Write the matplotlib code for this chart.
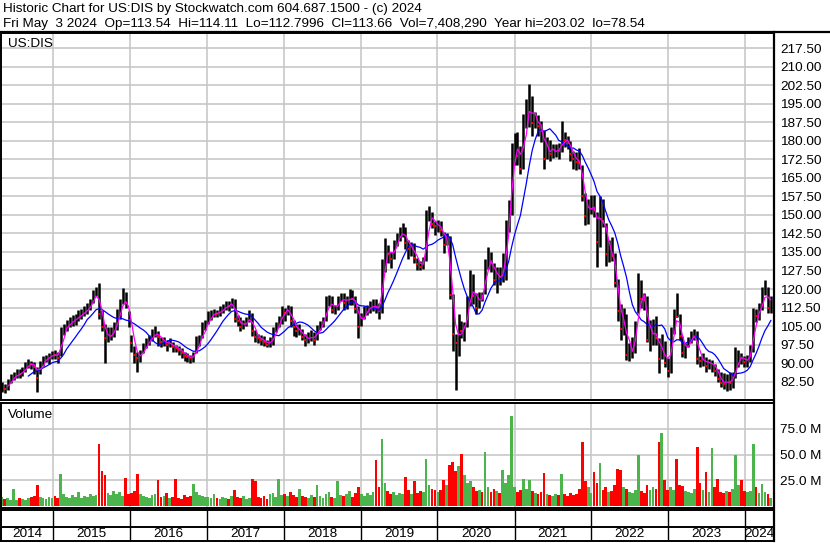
import matplotlib
matplotlib.use('Agg')
import matplotlib.pyplot as plt
import matplotlib.dates as mdates
from matplotlib.lines import Line2D
import numpy as np
import pandas as pd

plt.rcParams['font.family'] = ['Liberation Sans', 'DejaVu Sans']

header_1 = "Historic Chart for US:DIS by Stockwatch.com 604.687.1500 - (c) 2024"
header_2 = ("Fri May  3 2024  Op=113.54  Hi=114.11  Lo=112.7996  Cl=113.66  "
            "Vol=7,408,290  Year hi=203.02  lo=78.54")
symbol = "US:DIS"
first_bar = "2014-05-02"   # one bar every two weeks up to May 3 2024

closes = [
    80.5, 79.5, 82.0, 84.0, 84.5, 86.0, 85.5, 87.0, 89.0, 90.0, 89.5, 88.5, 84.0, 90.0, 91.5, 92.0, 92.5, 94.0,
    93.5, 92.0, 102.5, 104.0, 105.5, 106.5, 107.5, 108.0, 109.5, 110.0, 111.0, 112.5, 114.0, 117.5, 120.0, 110.0,
    104.5, 100.0, 100.5, 102.0, 104.0, 108.5, 113.5, 117.0, 114.5, 107.5,
    98.0, 93.5, 92.0, 93.5, 96.5, 98.5, 99.5, 101.5, 103.0, 100.5, 98.5, 99.0, 97.5, 98.0, 96.5, 96.0, 95.5, 94.0,
    93.0, 92.5, 92.0, 93.0, 98.5, 99.0, 104.0, 105.0,
    108.5, 110.0, 110.5, 110.0, 111.0, 112.5, 113.5, 113.0, 115.5, 108.0, 107.0, 104.5, 106.0, 107.0, 109.5, 103.0,
    100.5, 100.0, 99.5, 98.5, 97.5, 98.5, 102.0, 104.5, 107.0, 112.0,
    110.5, 112.5, 107.0, 104.5, 103.0, 103.5, 100.5, 99.5, 100.0, 101.5, 99.5, 104.0, 105.5, 107.5, 114.0, 116.0,
    111.5, 112.0, 115.5, 117.0, 114.5, 115.0, 117.5, 116.0, 112.0, 104.5,
    108.0, 111.5, 112.0, 113.0, 113.5, 112.5, 111.0, 130.5, 138.5, 134.0, 132.0, 138.0, 140.5, 143.0, 143.5, 138.5,
    136.0, 137.5, 132.5, 130.0, 129.0, 131.0, 149.0, 151.0, 146.5, 145.5,
    146.0, 144.0, 138.0, 140.5, 117.5, 102.0, 98.0, 104.5, 103.0, 105.5, 115.0, 124.5, 117.0, 112.5, 117.5, 117.0,
    131.0, 133.0, 130.5, 123.5, 126.0, 125.0, 125.5, 145.5, 154.0, 175.0,
    181.0, 174.0, 168.5, 189.0, 189.5, 197.0, 187.0, 189.5, 186.0, 184.0, 172.5, 179.5, 174.5, 176.0, 176.5, 176.0,
    181.5, 180.5, 179.0, 174.5, 172.5, 171.5, 171.0, 157.5, 149.5, 152.5, 155.0,
    152.0, 139.0, 155.0, 147.5, 134.0, 137.5, 133.5, 122.5, 111.0, 104.0, 109.5, 93.5, 95.0, 96.0, 106.0, 121.5,
    116.0, 115.5, 99.5, 101.0, 105.0, 100.0, 91.5, 98.5, 90.0, 87.0,
    103.0, 110.0, 108.5, 101.0, 94.0, 96.5, 99.0, 101.5, 102.5, 91.5, 91.0, 92.0, 89.0, 90.0, 90.5, 87.0,
    83.5, 82.0, 81.5, 83.5, 82.0, 84.0, 92.0, 93.0, 92.0, 90.5,
    91.0, 96.5, 109.5, 109.0, 112.0, 117.5, 120.5, 112.5, 113.66,
]

highs = [
    82.5, 81.5, 83.5, 85.5, 86.5, 87.5, 87.5, 88.5, 90.5, 91.5, 91.0, 90.5, 88.5, 91.0, 93.0, 93.5, 94.0, 95.0,
    95.5, 94.5, 104.5, 106.0, 107.5, 108.5, 109.5, 110.0, 111.5, 112.0, 113.0, 114.5, 116.0, 119.5, 121.0, 122.3,
    111.5, 106.0, 104.5, 104.5, 106.5, 112.0, 116.0, 120.5, 119.0, 111.0,
    101.5, 97.0, 94.5, 95.5, 98.0, 100.0, 101.5, 104.0, 105.0, 103.0, 100.5, 100.5, 99.5, 100.0, 98.5, 97.5, 97.0,
    96.0, 94.5, 94.0, 93.5, 94.5, 101.0, 101.5, 106.5, 107.5,
    111.0, 111.5, 112.0, 111.5, 113.0, 114.0, 115.0, 115.0, 116.2, 116.0, 109.5, 108.5, 107.5, 108.5, 111.5, 110.5,
    103.5, 102.0, 101.5, 101.0, 99.5, 100.5, 104.5, 106.5, 109.0, 113.0,
    112.5, 113.4, 113.0, 107.5, 106.0, 106.0, 104.0, 102.0, 102.5, 103.5, 102.5, 105.5, 107.0, 108.5, 117.0, 117.5,
    117.0, 113.5, 117.0, 118.5, 118.5, 117.0, 120.2, 119.5, 117.0, 113.0,
    110.5, 113.0, 113.5, 115.0, 116.0, 116.0, 114.5, 132.0, 140.5, 138.0, 135.0, 140.0, 142.5, 145.0, 146.7, 145.0,
    140.0, 139.0, 138.5, 132.5, 131.5, 133.0, 152.0, 153.4, 151.0, 147.5,
    148.0, 147.5, 143.0, 142.5, 141.5, 118.0, 102.0, 110.0, 107.0, 106.5, 117.0, 127.8, 126.0, 118.3, 119.0, 119.0,
    132.0, 137.0, 135.0, 130.5, 129.0, 129.0, 134.5, 148.0, 156.0, 179.0,
    183.0, 183.5, 178.0, 191.0, 197.0, 203.0, 198.0, 191.5, 190.5, 188.0, 184.5, 181.5, 180.5, 178.5, 178.5, 179.0,
    187.9, 183.5, 182.0, 180.0, 176.0, 175.5, 177.0, 170.0, 159.0, 156.5, 158.0,
    158.0, 151.0, 157.5, 156.5, 146.7, 140.0, 141.0, 134.5, 124.0, 114.0, 112.5, 110.0, 98.0, 100.7, 107.0, 126.4,
    123.5, 118.5, 117.0, 107.5, 108.0, 109.0, 100.0, 102.0, 99.0, 92.0,
    104.5, 112.0, 118.5, 110.0, 101.0, 98.0, 100.5, 103.0, 104.0, 103.0, 93.0, 94.0, 92.5, 91.5, 91.3, 89.5,
    87.5, 86.5, 86.0, 85.5, 86.5, 86.5, 96.7, 95.5, 94.0, 93.0,
    93.5, 97.5, 112.5, 112.0, 114.5, 121.0, 123.7, 121.0, 117.0,
]

lows = [
    78.5, 78.0, 79.0, 82.0, 83.0, 84.0, 84.0, 85.0, 86.5, 88.0, 87.5, 85.5, 78.5, 85.5, 89.0, 90.5, 89.5, 91.5,
    91.5, 90.0, 93.0, 101.5, 103.0, 104.5, 105.0, 105.5, 107.0, 108.0, 109.0, 110.0, 111.5, 114.5, 117.0, 108.0,
    103.0, 90.0, 98.5, 99.5, 100.5, 103.5, 108.0, 114.0, 112.5, 104.5,
    94.5, 90.0, 86.3, 90.5, 94.0, 96.0, 97.5, 99.0, 100.5, 97.0, 96.5, 97.0, 95.0, 96.5, 94.5, 94.5, 93.5, 92.0,
    91.0, 90.5, 90.0, 90.5, 94.0, 97.0, 100.0, 103.5,
    106.0, 107.5, 108.5, 108.5, 109.0, 110.5, 111.5, 111.0, 112.5, 106.5, 105.0, 103.0, 104.0, 105.0, 106.5, 101.0,
    98.5, 98.0, 97.5, 97.0, 96.5, 96.5, 97.5, 102.5, 104.5, 106.0,
    107.0, 109.5, 104.5, 101.0, 100.5, 101.5, 99.2, 97.1, 98.0, 99.0, 97.5, 99.5, 103.5, 104.5, 107.0, 113.0,
    110.5, 110.0, 111.5, 115.0, 111.5, 112.0, 113.5, 113.5, 110.5, 100.3,
    105.0, 108.0, 109.5, 110.5, 111.0, 110.5, 108.0, 110.5, 127.0, 130.5, 128.5, 132.0, 137.5, 139.5, 141.0, 136.0,
    132.0, 133.5, 130.5, 127.8, 127.5, 128.0, 131.5, 147.5, 144.5, 142.0,
    143.0, 141.3, 134.5, 138.0, 116.0, 95.0, 79.1, 93.0, 100.0, 99.0, 104.5, 113.0, 114.0, 110.0, 112.5, 115.0,
    118.0, 128.0, 127.0, 121.5, 118.3, 121.5, 123.0, 123.5, 143.0, 150.0,
    170.0, 170.0, 166.5, 168.5, 185.0, 185.5, 182.0, 185.0, 182.0, 179.5, 168.5, 172.5, 172.0, 173.0, 173.5, 172.5,
    175.5, 177.5, 176.5, 172.0, 168.5, 168.3, 168.5, 155.5, 146.0, 146.5, 150.5,
    149.0, 129.1, 137.0, 145.0, 129.5, 131.0, 131.5, 121.0, 107.0, 99.4, 101.5, 91.3, 91.0, 92.0, 94.0, 110.2,
    112.5, 111.5, 98.5, 95.0, 97.5, 97.5, 86.0, 91.5, 88.5, 84.5,
    86.0, 102.0, 108.5, 99.5, 92.6, 92.0, 96.5, 98.0, 99.5, 89.5, 88.6, 89.0, 86.5, 87.5, 86.5, 85.0,
    82.5, 80.5, 79.5, 78.7, 79.0, 80.0, 84.0, 88.6, 89.5, 88.5,
    88.5, 90.5, 94.5, 106.5, 107.5, 111.5, 117.5, 110.5, 110.2,
]

# volume in millions of shares
volumes = [
    9, 7, 8, 6, 16.5, 6, 8, 7, 6, 8, 9, 10, 20, 9, 8, 7, 9, 8,
    10, 8, 31, 12, 9, 8, 11, 9, 14, 8, 10, 9, 12, 10, 11, 60, 34, 30, 13, 11, 15, 12, 14, 10, 27, 12,
    13, 15, 31, 12, 10, 9, 8, 11, 12, 25, 9, 10, 13, 8, 9, 26, 8, 7, 11, 9, 10, 21, 14, 11, 10, 9,
    9, 8, 12, 8, 7, 9, 8, 7, 10, 16, 9, 8, 10, 7, 8, 26, 24, 9, 8, 10, 7, 12, 13, 9, 26, 11,
    12, 10, 14, 11, 9, 17, 10, 9, 8, 11, 9, 20, 10, 8, 12, 14, 9, 8, 24, 11, 10, 12, 15, 9, 13, 18,
    12, 10, 13, 11, 14, 45, 18, 65, 22, 15, 12, 14, 11, 13, 12, 28, 16, 12, 24, 13, 15, 14, 46, 20, 17, 16,
    14, 16, 25, 20, 40, 43, 34, 39, 51, 30, 22, 24, 18, 15, 16, 14, 53, 18, 14, 17, 15, 13, 35, 22, 30, 88,
    18, 14, 16, 26, 17, 25, 15, 13, 12, 14, 32, 12, 11, 10, 12, 11, 31, 12, 10, 13, 11, 12, 17, 62, 24, 18, 13,
    33, 22, 42, 16, 18, 14, 15, 20, 36, 35, 18, 17, 14, 13, 16, 50, 15, 13, 20, 16, 18, 17, 62, 71, 25, 16,
    18, 16, 46, 20, 19, 15, 14, 13, 17, 57, 22, 16, 33, 14, 56, 18, 26, 14, 13, 15, 14, 17, 50, 20, 25, 15,
    14, 15, 60, 18, 13, 21, 14, 12, 8,
]

years = [2014, 2015, 2016, 2017, 2018, 2019, 2020, 2021, 2022, 2023, 2024]
price_ticks = [82.5, 90.0, 97.5, 105.0, 112.5, 120.0, 127.5, 135.0, 142.5, 150.0, 157.5,
               165.0, 172.5, 180.0, 187.5, 195.0, 202.5, 210.0, 217.5]
volume_ticks = [25, 50, 75]

W, H = 830, 543
GRID = '#c8c8c8'
FS = 9.7


def rect(x0, y0, x1, y1):
    return [x0 / W, 1 - y1 / H, (x1 - x0) / W, (y1 - y0) / H]


def frame(ax, lw=1.4):
    for s in ax.spines.values():
        s.set_linewidth(lw)
        s.set_color('black')


dates = pd.date_range(first_bar, periods=len(closes), freq='14D')
x = mdates.date2num(dates)
xlim = (mdates.datestr2num('2014-04-28'), mdates.datestr2num('2024-05-18'))
bounds = [mdates.datestr2num('%d-01-01' % y) for y in years[1:]]

c = pd.Series(closes)
ma_short = c.rolling(3).mean()    # ~20 day average
ma_long = c.rolling(10).mean()    # ~100 day average
down = np.r_[False, np.diff(closes) < 0]

fig = plt.figure(figsize=(W / 100, H / 100), dpi=100)

# header
fig.text(3 / W, 1 - 9 / H, header_1, fontsize=FS, va='center', ha='left')
fig.text(3 / W, 1 - 24 / H, header_2, fontsize=FS, va='center', ha='left')
fig.add_artist(Line2D([0, 1], [1 - 32 / H, 1 - 32 / H], color='black', lw=1.6))
fig.add_artist(Line2D([774 / W, 774 / W], [1 - 32 / H, 1 - 541 / H], color='black', lw=1.6))

# price panel
ax = fig.add_axes(rect(1, 33, 774, 400))
ax.set_xlim(*xlim)
ax.set_ylim(75.1, 223.6)
for p in price_ticks:
    ax.axhline(p, color=GRID, lw=1.2, zorder=0)
for b in bounds:
    ax.axvline(b, color=GRID, lw=1.2, zorder=0)
ax.vlines(x, lows, highs, color='black', lw=1.8, zorder=2)
ax.plot(x[down], np.array(closes)[down], 's', color='#ff0000', ms=1.8, mew=0, zorder=3)
ax.plot(x, ma_long, color='#0000ff', lw=0.9, zorder=4)
ax.plot(x, ma_short, color='#ff00ff', lw=0.9, zorder=5)
ax.yaxis.tick_right()
ax.set_yticks(price_ticks)
ax.set_yticklabels(['%.2f' % p for p in price_ticks], fontsize=FS)
ax.tick_params(axis='y', length=0, pad=4.5)
ax.set_xticks([])
ax.text(7 / 773, 1 - 11 / 367, symbol, transform=ax.transAxes, fontsize=FS, va='center', ha='left')
frame(ax)

# volume panel
av = fig.add_axes(rect(1, 403, 774, 508))
av.set_xlim(*xlim)
av.set_ylim(-1.95, 100.2)
for v in volume_ticks:
    av.axhline(v, color=GRID, lw=1.2, zorder=0)
for b in bounds:
    av.axvline(b, color=GRID, lw=1.2, zorder=0)
vol_colors = ['#ff0000' if d else '#4cb44c' for d in down]
av.bar(x, volumes, width=13, color=vol_colors, linewidth=0, zorder=2)
av.yaxis.tick_right()
av.set_yticks(volume_ticks)
av.set_yticklabels(['%.1f M' % v for v in volume_ticks], fontsize=FS)
av.tick_params(axis='y', length=0, pad=4.5)
av.set_xticks([])
av.text(7 / 773, 1 - 12 / 105, 'Volume', transform=av.transAxes, fontsize=FS, va='center', ha='left')
frame(av)

# date band
ab = fig.add_axes(rect(1, 510, 774, 541))
ab.set_xlim(*xlim)
ab.set_ylim(0, 31)
for b in bounds:
    ab.axvline(b, color='black', lw=1.0)
ab.axhline(14, color='black', lw=1.4)
edges = [xlim[0]] + bounds + [xlim[1]]
for i, yr in enumerate(years):
    ab.text((edges[i] + edges[i + 1]) / 2, 7, str(yr), fontsize=FS, ha='center', va='center')
ab.set_xticks([])
ab.set_yticks([])
frame(ab)

fig.savefig('out.png', dpi=100)
